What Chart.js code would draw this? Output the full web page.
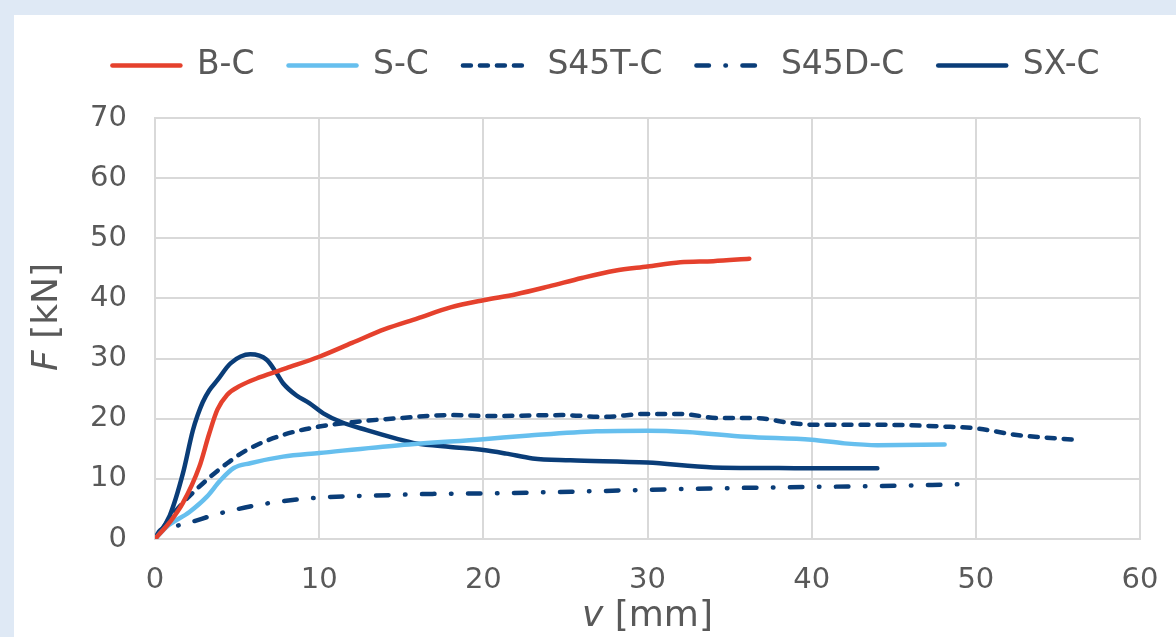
<!DOCTYPE html>
<html>
<head>
<meta charset="utf-8">
<script src="https://cdn.jsdelivr.net/npm/chart.js@4/dist/chart.umd.min.js"></script>
<style>
  html, body { margin: 0; padding: 0; background: #dfe9f5; overflow: hidden; }
  #panel { position: absolute; left: 14px; top: 15px; width: 1162px; height: 622px; background: #ffffff; }
  canvas { display: block; }
</style>
</head>
<body>
<div id="panel"><canvas id="chart" width="1162" height="622"></canvas></div>
<script>
// ================================
// DATA (v in mm, F in kN)
// ================================
const seriesNames = ["B-C", "S-C", "S45T-C", "S45D-C", "SX-C"];

const bcV = [0, 0.9, 1.7, 2.7, 3.3, 3.8, 4.4, 5.2, 6.4, 8.0, 10.0, 12.0, 14.0, 16.0, 18.0, 20.0, 22.0, 24.0, 26.0, 28.0, 30.0, 32.0, 34.0, 36.2];
const bcF = [0, 2.8, 6.0, 12.0, 17.5, 21.5, 24.0, 25.5, 26.9, 28.4, 30.3, 32.6, 34.9, 36.7, 38.5, 39.7, 40.7, 42.0, 43.4, 44.6, 45.3, 46.0, 46.2, 46.6];

const scV = [0, 0.7, 2.1, 3.15, 4.0, 4.8, 5.8, 7.8, 10.0, 14.9, 20.0, 22.8, 26.9, 30.0, 32.4, 36.0, 40.0, 42.0, 44.0, 48.1];
const scF = [0, 2.0, 4.5, 7.0, 9.8, 11.8, 12.6, 13.7, 14.3, 15.6, 16.6, 17.2, 17.9, 18.0, 17.8, 17.0, 16.5, 15.9, 15.6, 15.7];

const s45tV = [0, 1.3, 2.7, 4.4, 5.8, 7.8, 10.0, 12.3, 14.9, 18.0, 20.4, 24.8, 27.3, 29.9, 32.0, 34.4, 36.6, 38.7, 40.1, 44.0, 48.0, 50.0, 52.5, 56.0];
const s45tF = [0, 4.8, 8.7, 12.6, 15.1, 17.3, 18.7, 19.5, 20.1, 20.6, 20.45, 20.6, 20.3, 20.8, 20.8, 20.1, 20.1, 19.3, 19.0, 19.0, 18.7, 18.4, 17.3, 16.5];

const s45dV = [0, 0.3, 1.5, 4.0, 6.8, 9.6, 14.3, 16.9, 20.4, 25.9, 32.0, 38.1, 44.0, 49.0];
const s45dF = [0, 1.4, 2.3, 4.3, 5.9, 6.8, 7.3, 7.5, 7.6, 7.9, 8.3, 8.6, 8.8, 9.1];

const sxV = [0, 0.9, 1.7, 2.3, 2.6, 2.9, 3.3, 3.8, 4.6, 5.8, 6.8, 7.4, 7.8, 8.6, 9.4, 10.25, 11.3, 12.9, 14.7, 15.9, 18.0, 20.0, 21.4, 23.0, 25.3, 30.0, 34.0, 38.0, 40.5, 44.0];
const sxF = [0, 3.9, 10.9, 18.0, 20.6, 22.7, 24.7, 26.4, 29.2, 30.7, 29.8, 27.6, 25.9, 23.9, 22.6, 20.9, 19.5, 18.1, 16.7, 15.9, 15.3, 14.8, 14.2, 13.4, 13.1, 12.7, 11.9, 11.8, 11.75, 11.75];

const xTicks = [0, 10, 20, 30, 40, 50, 60];
const yTicks = [0, 10, 20, 30, 40, 50, 60, 70];

// ================================
// HELPERS
// ================================
const RED = "#e5412d";
const LIGHT = "#66bfee";
const NAVY = "#0a3d78";
const TEXT = "#595959";
const GRID = "#d9d9d9";
const FONT = "'DejaVu Sans', Verdana, sans-serif";

function pairs(xs, ys) {
    return xs.map((x, i) => ({ x: x, y: ys[i] }));
}

function lineSet(label, xs, ys, color, dash) {
    return {
        label: label,
        data: pairs(xs, ys),
        borderColor: color,
        backgroundColor: color,
        borderWidth: 4.5,
        borderDash: dash,
        borderCapStyle: "round",
        borderJoinStyle: "round",
        pointRadius: 0,
        pointHoverRadius: 0,
        fill: false,
        tension: 0.4,
        cubicInterpolationMode: "monotone"
    };
}

// legend entries drawn as short lines with the dataset's dash
function legendLabels(chart) {
    const items = Chart.defaults.plugins.legend.labels.generateLabels(chart);
    return items.map(it => {
        const ds = chart.data.datasets[it.datasetIndex];
        it.lineDash = ds.borderDash;
        it.lineCap = "round";
        it.lineWidth = 4.5;
        it.strokeStyle = ds.borderColor;
        it.pointStyle = "line";
        return it;
    });
}

// axis titles with an italic variable and an upright unit
const axisTitles = {
    id: "axisTitles",
    afterDraw(chart) {
        const ctx = chart.ctx;
        const italic = "italic 36px " + FONT;
        const normal = "36px " + FONT;
        function drawMixed(a, b, cx, cy, rot) {
            ctx.save();
            ctx.translate(cx, cy);
            ctx.rotate(rot);
            ctx.fillStyle = TEXT;
            ctx.textBaseline = "middle";
            ctx.font = italic;
            const wa = ctx.measureText(a).width;
            ctx.font = normal;
            const wb = ctx.measureText(b).width;
            const x = -(wa + wb) / 2;
            ctx.textAlign = "left";
            ctx.font = italic;
            ctx.fillText(a, x, 0);
            ctx.font = normal;
            ctx.fillText(b, x + wa, 0);
            ctx.restore();
        }
        const area = chart.chartArea;
        drawMixed("v", " [mm]", (area.left + area.right) / 2, 602, 0);
        drawMixed("F", " [kN]", 34, 302, -Math.PI / 2);
    }
};

// keep the legend row and the plot top where the reference has them
const legendPlace = {
    id: "legendPlace",
    afterInit(chart) {
        const lg = chart.legend;
        const fit = lg.fit.bind(lg);
        lg.fit = function () { fit(); this.height = 103; };
    },
    afterLayout(chart) {
        const lg = chart.legend;
        lg.left += 29;
        lg.right += 29;
    }
};

// ================================
// PLOT
// ================================
function plotChart(canvasId) {
    const ctx = document.getElementById(canvasId).getContext("2d");

    new Chart(ctx, {
        type: "line",
        data: {
            datasets: [
                lineSet(seriesNames[0], bcV, bcF, RED, []),
                lineSet(seriesNames[1], scV, scF, LIGHT, []),
                lineSet(seriesNames[2], s45tV, s45tF, NAVY, [8, 9]),
                lineSet(seriesNames[3], s45dV, s45dF, NAVY, [12.5, 16.5, 0.5, 16.5]),
                lineSet(seriesNames[4], sxV, sxF, NAVY, [])
            ]
        },
        options: {
            responsive: false,
            devicePixelRatio: 1,
            animation: false,
            events: [],
            layout: { padding: { left: 0, right: 36, top: 0, bottom: 0 } },
            plugins: {
                tooltip: { enabled: false },
                legend: {
                    display: true,
                    position: "top",
                    labels: {
                        usePointStyle: true,
                        pointStyleWidth: 68,
                        padding: 34,
                        color: TEXT,
                        font: { family: FONT, size: 33 },
                        generateLabels: legendLabels
                    }
                }
            },
            scales: {
                x: {
                    type: "linear",
                    min: 0,
                    max: 60,
                    afterBuildTicks: s => { s.ticks = xTicks.map(v => ({ value: v })); },
                    afterFit: s => { s.height = 98; s.paddingLeft = 0; s.paddingRight = 0; },
                    grid: { color: GRID, lineWidth: 2, drawTicks: false },
                    border: { color: GRID, width: 2 },
                    ticks: { color: TEXT, padding: 24, font: { family: FONT, size: 29 } }
                },
                y: {
                    type: "linear",
                    min: 0,
                    max: 70,
                    afterBuildTicks: s => { s.ticks = yTicks.map(v => ({ value: v })); },
                    afterFit: s => { s.width = 141; },
                    grid: { color: GRID, lineWidth: 2, drawTicks: false },
                    border: { color: GRID, width: 2 },
                    ticks: { color: TEXT, padding: 28, font: { family: FONT, size: 29 } }
                }
            }
        },
        plugins: [axisTitles, legendPlace]
    });
}

// ================================
// RUN
// ================================
plotChart("chart");
</script>
</body>
</html>
